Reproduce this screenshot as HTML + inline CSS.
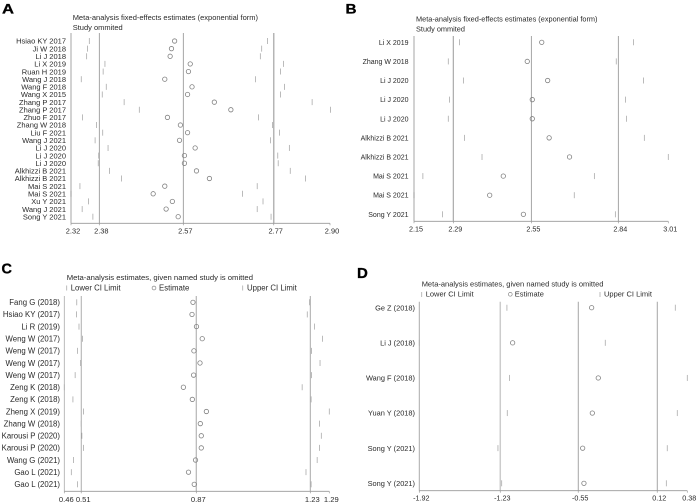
<!DOCTYPE html>
<html lang="en">
<head>
<meta charset="utf-8">
<title>Sensitivity analysis forest plots</title>
<style>
html,body{margin:0;padding:0;background:#fff;width:699px;height:504px;overflow:hidden}
svg{display:block;font-family:"Liberation Sans",Arial,sans-serif;filter:blur(0.3px)}
text{fill:#2a2a2a}
.letter{font-weight:bold;fill:#000;stroke:#000;stroke-width:.3px}
</style>
</head>
<body>
<svg id="figure" width="699" height="504" viewBox="0 0 699 504" xmlns="http://www.w3.org/2000/svg">
  <rect width="699" height="504" fill="#fff"/>
  <text class="letter" x="2" y="13.5" font-size="13.5" textLength="12" lengthAdjust="spacingAndGlyphs">A</text>
  <text class="letter" x="345.5" y="13.5" font-size="13.5" textLength="11" lengthAdjust="spacingAndGlyphs">B</text>
  <text class="letter" x="1.5" y="273.3" font-size="14.5">C</text>
  <text class="letter" x="357" y="278" font-size="15">D</text>

  <text x="72.7" y="20" font-size="7.5">Meta-analysis fixed-effects estimates (exponential form)</text>
  <text x="72.7" y="30" font-size="7.5">Study ommited</text>
  <text x="416" y="21.5" font-size="7.35">Meta-analysis fixed-effects estimates (exponential form)</text>
  <text x="416" y="31.5" font-size="7.35">Study ommited</text>

  <text x="66.7" y="280" font-size="7.7">Meta-analysis estimates, given named study is omitted</text>
  <g font-size="7.8">
    <line x1="66.7" x2="66.7" y1="285.5" y2="290.5" stroke="#aaa" stroke-width=".8"/>
    <text x="70.7" y="290.5">Lower CI Limit</text>
    <circle cx="154" cy="288" r="1.9" fill="none" stroke="#888" stroke-width=".7"/>
    <text x="159" y="290.5">Estimate</text>
    <line x1="242.7" x2="242.7" y1="285.5" y2="290.5" stroke="#aaa" stroke-width=".8"/>
    <text x="247" y="290.5">Upper CI Limit</text>
  </g>

  <text x="421.7" y="286.5" font-size="7.5">Meta-analysis estimates, given named study is omitted</text>
  <g font-size="7.5">
    <line x1="421.7" x2="421.7" y1="292" y2="297" stroke="#aaa" stroke-width=".8"/>
    <text x="425.7" y="296.7">Lower CI Limit</text>
    <circle cx="510.3" cy="294.3" r="1.9" fill="none" stroke="#888" stroke-width=".7"/>
    <text x="514.7" y="296.7">Estimate</text>
    <line x1="600" x2="600" y1="292" y2="297" stroke="#aaa" stroke-width=".8"/>
    <text x="604" y="296.7">Upper CI Limit</text>
  </g>
</svg>
<script>
/* Panel A data */
const aStudies = ["Hsiao KY 2017","Ji W 2018","Li J 2018","Li X 2019","Ruan H 2019","Wang J 2018","Wang F 2018","Wang X 2015","Zhang P 2017","Zhang P 2017","Zhuo F 2017","Zhang W 2018","Liu F 2021","Wang J 2021","Li J 2020","Li J 2020","Li J 2020","Alkhizzi B 2021","Alkhizzi B 2021","Mai S 2021","Mai S 2021","Xu Y 2021","Wang J 2021","Song Y 2021"];
const aLower = [2.361,2.357,2.355,2.396,2.392,2.343,2.399,2.390,2.439,2.473,2.346,2.377,2.391,2.374,2.403,2.382,2.381,2.406,2.433,2.340,2.320,2.359,2.345,2.369];
const aEstimate = [2.552,2.545,2.542,2.587,2.583,2.530,2.591,2.581,2.641,2.678,2.536,2.565,2.581,2.563,2.598,2.574,2.574,2.601,2.630,2.530,2.504,2.547,2.533,2.560];
const aUpper = [2.760,2.747,2.744,2.796,2.789,2.733,2.798,2.789,2.860,2.901,2.740,2.771,2.787,2.767,2.809,2.783,2.784,2.811,2.845,2.737,2.704,2.750,2.737,2.768];
const aTicks = [2.32,2.3834,2.5715,2.774,2.90];
const aTickLabels = ["2.32","2.38","2.57","2.77","2.90"];

/* Panel B data */
const bStudies = ["Li X 2019","Zhang W 2018","Li J 2020","Li J 2020","Li J 2020","Alkhizzi B 2021","Alkhizzi B 2021","Mai S 2021","Mai S 2021","Song Y 2021"];
const bLower = [2.304,2.266,2.317,2.270,2.266,2.321,2.380,2.180,2.150,2.246];
const bEstimate = [2.582,2.533,2.602,2.550,2.550,2.607,2.676,2.452,2.406,2.520];
const bUpper = [2.892,2.834,2.926,2.865,2.869,2.929,3.010,2.760,2.692,2.831];
const bTicks = [2.15,2.283,2.5468,2.841,3.01];
const bTickLabels = ["2.15","2.29","2.55","2.84","3.01"];

/* Panel C data */
const cStudies = ["Fang G (2018)","Hsiao KY (2017)","Li R (2019)","Weng W (2017)","Weng W (2017)","Weng W (2017)","Weng W (2017)","Zeng K (2018)","Zeng K (2018)","Zheng X (2019)","Zhang W (2018)","Karousi P (2020)","Karousi P (2020)","Wang G (2021)","Gao L (2021)","Gao L (2021)"];
const cLower = [0.499,0.498,0.506,0.517,0.501,0.511,0.494,0.460,0.487,0.520,0.513,0.515,0.520,0.489,0.482,0.501];
const cEstimate = [0.863,0.860,0.874,0.892,0.866,0.885,0.865,0.833,0.861,0.905,0.886,0.889,0.889,0.871,0.849,0.867];
const cUpper = [1.228,1.221,1.244,1.269,1.234,1.261,1.234,1.205,1.233,1.290,1.259,1.265,1.259,1.252,1.217,1.233];
const cTicks = [0.46,0.513,0.8735,1.2305,1.29];
const cTickLabels = ["0.46","0.51","0.87","1.23","1.29"];

/* Panel D data */
const dStudies = ["Ge Z (2018)","Li J (2018)","Wang F (2018)","Yuan Y (2018)","Song Y (2021)","Song Y (2021)"];
const dLower = [-1.168,-1.920,-1.145,-1.165,-1.245,-1.213];
const dEstimate = [-0.441,-1.119,-0.384,-0.435,-0.518,-0.507];
const dUpper = [0.277,-0.324,0.380,0.294,0.208,0.200];
const dTicks = [-1.92,-1.225,-0.556,0.122,0.38];
const dTickLabels = ["-1.92","-1.23","-0.55","0.12","0.38"];

const NS = "http://www.w3.org/2000/svg";
const figure = document.getElementById("figure");

function svgEl(parent, tag, attrs) {
  const el = document.createElementNS(NS, tag);
  for (const k in attrs) el.setAttribute(k, attrs[k]);
  parent.appendChild(el);
  return el;
}

function drawPanel(id, studies, lower, estimate, upper, ticks, tickLabels, box) {
  const g = svgEl(figure, "g", {});
  
  

  const xMin = ticks[0], xMax = ticks[ticks.length - 1];
  const x = v => box.left + (v - xMin) / (xMax - xMin) * (box.right - box.left);
  const y = i => box.firstRow + i * (box.lastRow - box.firstRow) / (studies.length - 1);

  ticks.forEach((t, i) => {
    const line = svgEl(g, "line", { x1: x(t), x2: x(t), y1: box.top, y2: box.axisY, stroke: box.refColors[i], "stroke-width": box.refWidths[i] });
    
    
    const tick = svgEl(g, "line", { x1: x(t), x2: x(t), y1: box.axisY, y2: box.axisY + 2, stroke: "#999", "stroke-width": .7 });
    
    
    const label = svgEl(g, "text", { x: x(t) + 2, y: box.tickLabelY, "font-size": box.tickFont, "text-anchor": "middle" });
    label.textContent = tickLabels[i];
    
    
  });

  const axis = svgEl(g, "line", { x1: box.left, x2: box.right, y1: box.axisY, y2: box.axisY, stroke: "#999", "stroke-width": .8 });
  
  

  studies.forEach((name, i) => {
    const label = svgEl(g, "text", { x: box.labelRight, y: y(i) + box.labelFont * 0.36, "font-size": box.labelFont, "text-anchor": "end" });
    label.textContent = name;
    
    

    const lo = svgEl(g, "line", { x1: x(lower[i]), x2: x(lower[i]), y1: y(i) - 3, y2: y(i) + 3, stroke: "#aaa", "stroke-width": .8 });
    
    

    const up = svgEl(g, "line", { x1: x(upper[i]), x2: x(upper[i]), y1: y(i) - 3, y2: y(i) + 3, stroke: "#aaa", "stroke-width": .8 });
    
    

    const pt = svgEl(g, "circle", { cx: x(estimate[i]), cy: y(i), r: 2.2, fill: "none", stroke: "#808080", "stroke-width": .8 });
    
    
  });
}

drawPanel("panel-a", aStudies, aLower, aEstimate, aUpper, aTicks, aTickLabels, {
  left: 71, right: 330, top: 33, axisY: 223.3, firstRow: 41, lastRow: 216.7, labelRight: 66, labelFont: 7.5,
  tickLabelY: 233.5, tickFont: 7.4,
  refColors: ["#c4c4c4","#8f8f8f","#8f8f8f","#b5b5b5","#fff"], refWidths: [1.5,.8,.8,1.5,0]
});
drawPanel("panel-b", bStudies, bLower, bEstimate, bUpper, bTicks, bTickLabels, {
  left: 414, right: 668.3, top: 36, axisY: 221.3, firstRow: 42.3, lastRow: 214.3, labelRight: 408.5, labelFont: 7,
  tickLabelY: 231.5, tickFont: 7.2,
  refColors: ["#c4c4c4","#aaa","#8f8f8f","#8f8f8f","#fff"], refWidths: [1.5,1.2,.8,.8,0]
});
drawPanel("panel-c", cStudies, cLower, cEstimate, cUpper, cTicks, cTickLabels, {
  left: 64.3, right: 329.3, top: 296, axisY: 491.3, firstRow: 302.3, lastRow: 484.3, labelRight: 60, labelFont: 7.8,
  tickLabelY: 502, tickFont: 7.6,
  refColors: ["#aaa","#999","#bbb","#aaa","#fff"], refWidths: [.8,.8,1.3,1,0]
});
drawPanel("panel-d", dStudies, dLower, dEstimate, dUpper, dTicks, dTickLabels, {
  left: 419.3, right: 687.3, top: 301.7, axisY: 490.7, firstRow: 307.7, lastRow: 483.3, labelRight: 415, labelFont: 7.4,
  tickLabelY: 500.5, tickFont: 7.2,
  refColors: ["#aaa","#ccc","#8f8f8f","#8f8f8f","#fff"], refWidths: [1,1.5,.8,.8,0]
});
</script>
</body>
</html>
